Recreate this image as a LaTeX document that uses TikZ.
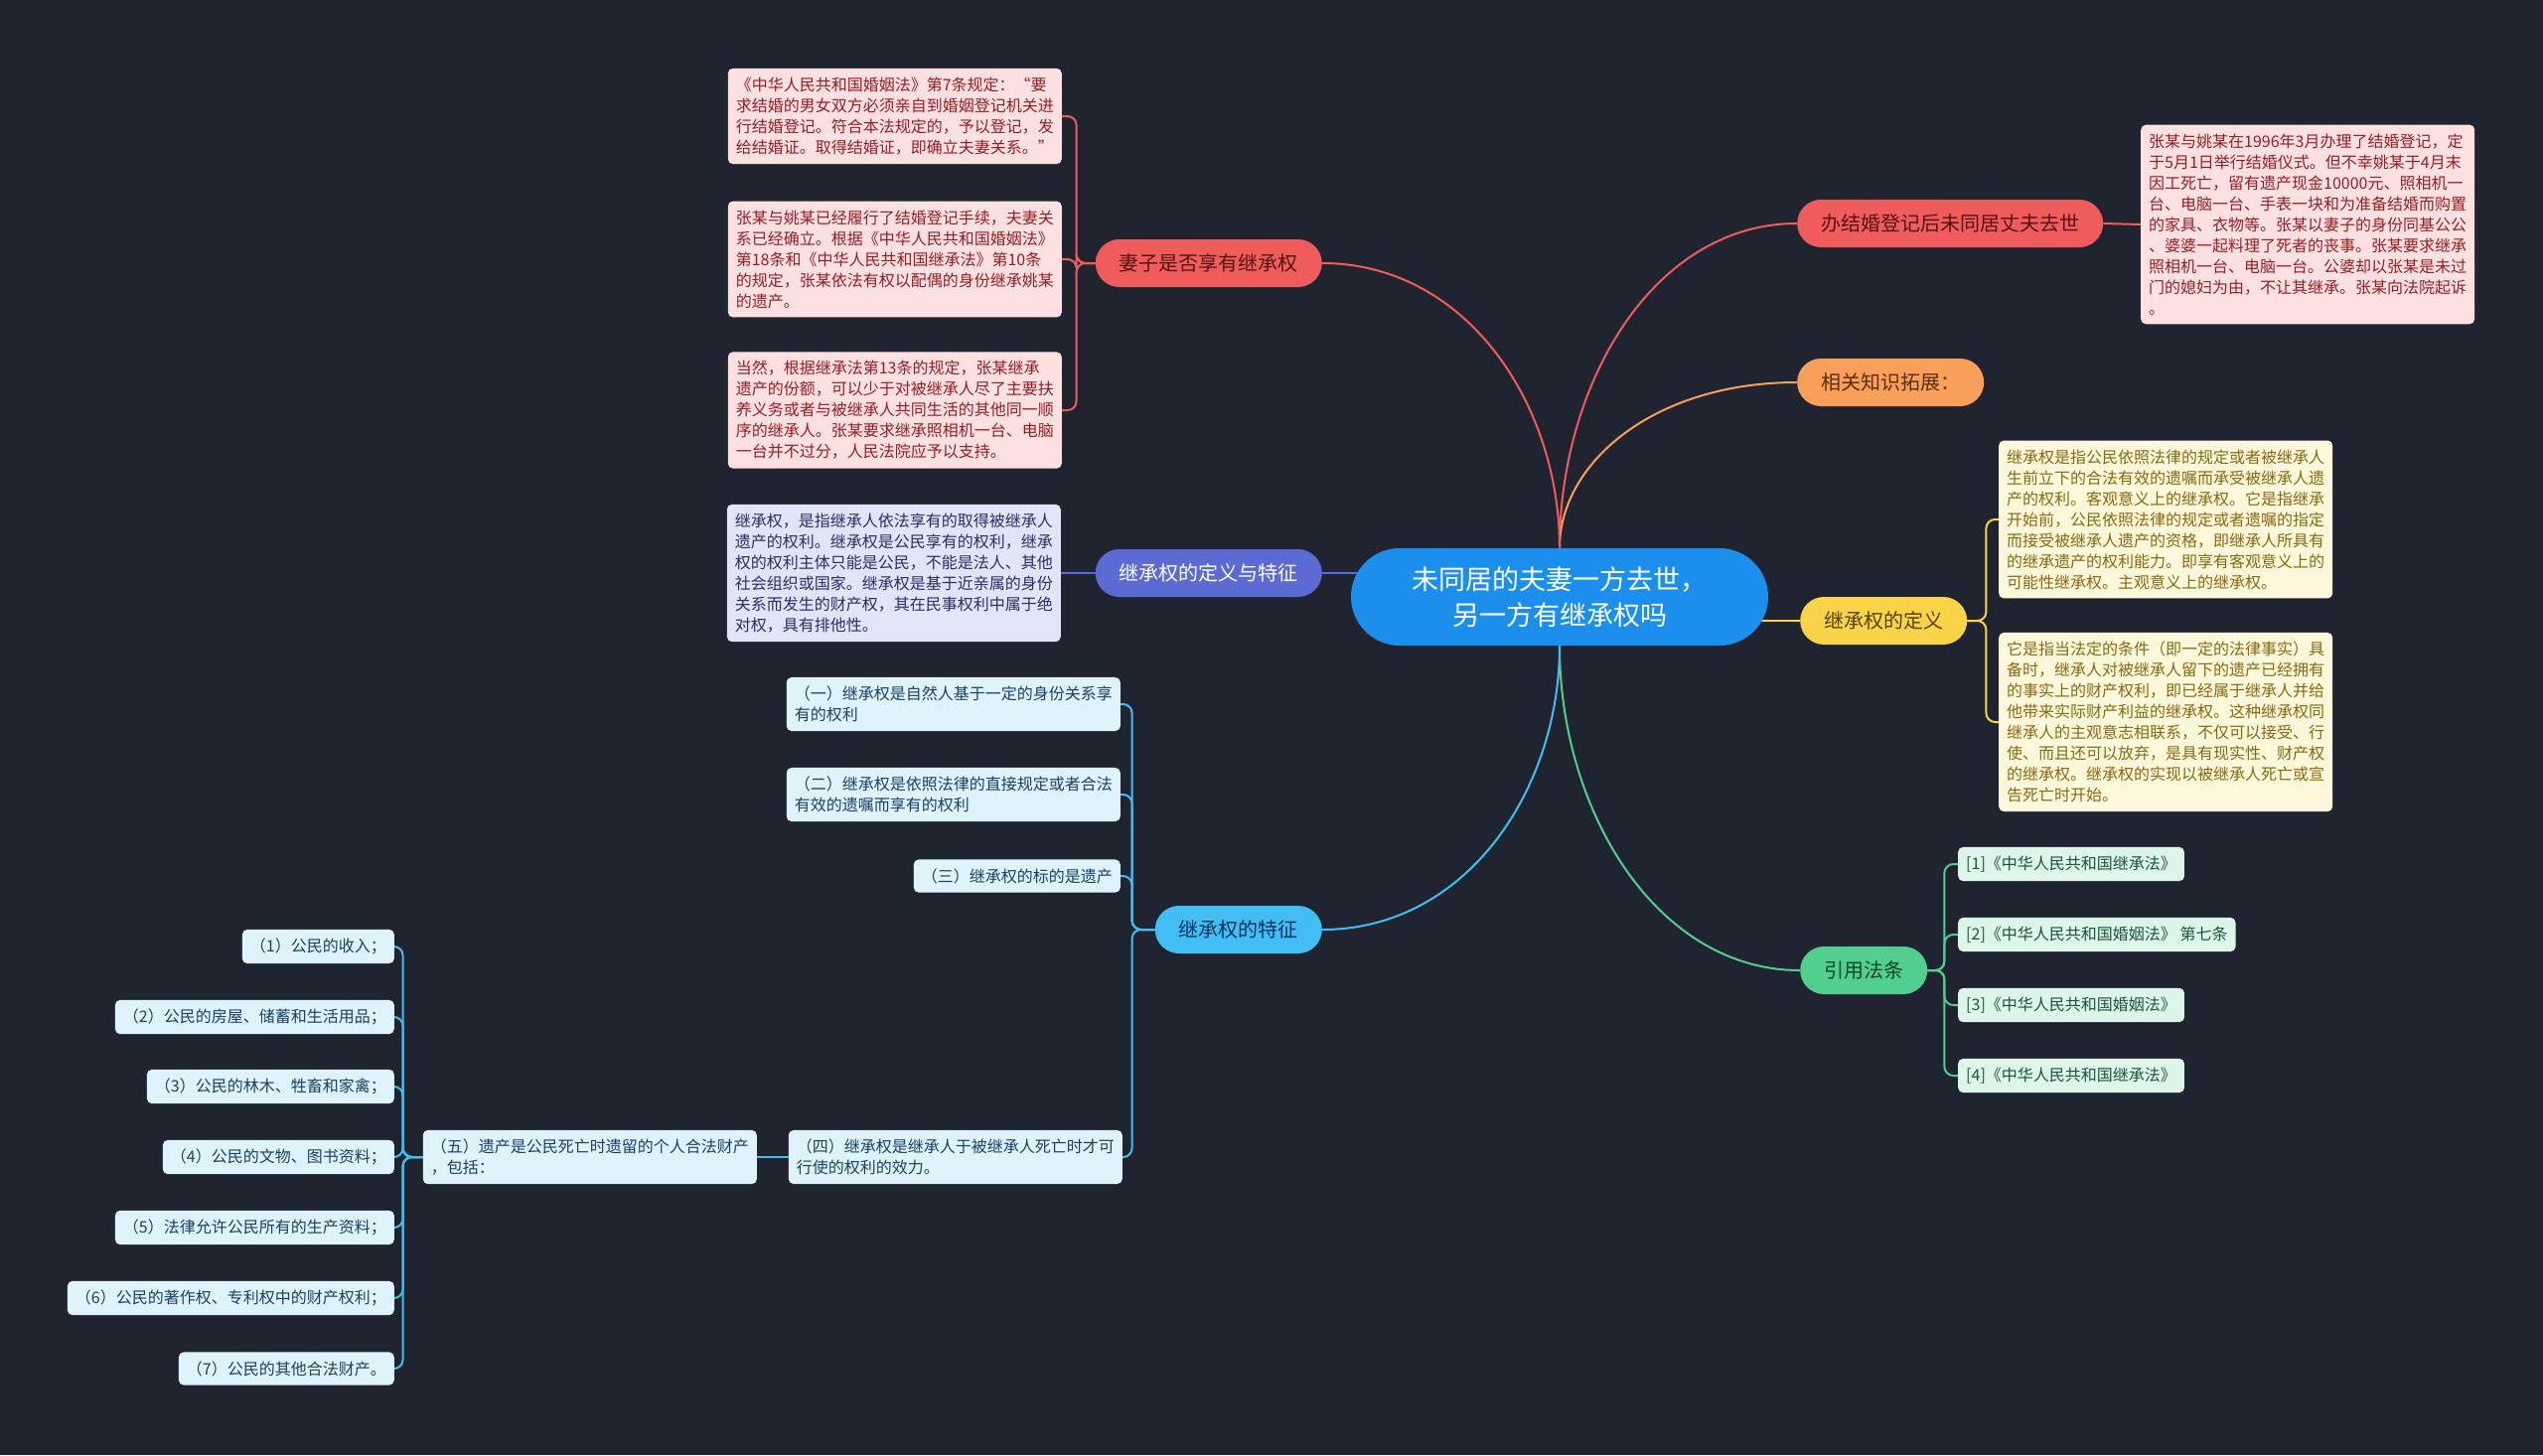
\documentclass[tikz,border=0pt]{standalone}
\usepackage{fontspec}
\setmainfont{Noto Sans CJK SC}
\usetikzlibrary{shapes.misc,backgrounds}
\definecolor{bgc}{RGB}{32,36,48}
\definecolor{rt}{RGB}{27,143,235}
\definecolor{rd}{RGB}{240,92,92}
\definecolor{rdD}{RGB}{85,20,20}
\definecolor{rdL}{RGB}{253,225,225}
\definecolor{rdT}{RGB}{150,30,35}
\definecolor{og}{RGB}{248,160,90}
\definecolor{ogD}{RGB}{90,45,10}
\definecolor{yl}{RGB}{250,212,72}
\definecolor{ylD}{RGB}{85,65,0}
\definecolor{ylL}{RGB}{253,247,220}
\definecolor{ylT}{RGB}{135,105,15}
\definecolor{gn}{RGB}{82,206,142}
\definecolor{gnD}{RGB}{10,70,40}
\definecolor{gnL}{RGB}{222,246,234}
\definecolor{gnT}{RGB}{25,85,60}
\definecolor{bl}{RGB}{66,190,245}
\definecolor{blD}{RGB}{10,50,90}
\definecolor{blL}{RGB}{222,243,252}
\definecolor{blT}{RGB}{25,65,100}
\definecolor{pu}{RGB}{92,106,212}
\definecolor{puD}{RGB}{255,255,255}
\definecolor{puL}{RGB}{226,229,248}
\definecolor{puT}{RGB}{40,48,100}
\tikzset{
  ce/.style={rectangle, rounded corners=49pt, minimum width=420pt, minimum height=98pt,
    fill=rt, text=white, align=center, font=\fontsize{27}{36}\selectfont},
  br/.style={rectangle, rounded corners=24pt, minimum height=48pt, inner xsep=24pt,
    fill=#1, text=#1D, font=\fontsize{20}{24}\selectfont},
  lf/.style={rectangle, rounded corners=5pt, inner xsep=8pt, inner ysep=9pt,
    fill=#1L, text=#1T, align=left, font=\fontsize{16}{21}\selectfont},
  ln/.style={draw=#1, line width=2pt},
  bk/.style={ln=#1, rounded corners=9pt}
}
\begin{document}
\begin{tikzpicture}[x=1pt,y=-1pt]
  \useasboundingbox (0,0) rectangle (2560,1465);
  \node[ce] (root) at (1570,601) {未同居的夫妻一方去世，\\另一方有继承权吗};
  % right side
  \node[br=rd, anchor=west] (marry) at (1809,225) {办结婚登记后未同居丈夫去世};
  \node[br=og, anchor=west] (more) at (1809,385) {相关知识拓展：};
  \node[br=yl, anchor=west] (defn) at (1812,625) {继承权的定义};
  \node[br=gn, anchor=west] (laws) at (1812,977) {引用法条};
  % left side
  \node[br=rd, anchor=east] (wife) at (1331,265) {妻子是否享有继承权};
  \node[br=pu, anchor=east] (dfeat) at (1331,577) {继承权的定义与特征};
  \node[br=bl, anchor=east] (feat) at (1331,936) {继承权的特征};

  \node[lf=rd, anchor=west] (case) at (2155,226)
    {张某与姚某在1996年3月办理了结婚登记，定\\于5月1日举行结婚仪式。但不幸姚某于4月末\\因工死亡，留有遗产现金10000元、照相机一\\台、电脑一台、手表一块和为准备结婚而购置\\的家具、衣物等。张某以妻子的身份同基公公\\、婆婆一起料理了死者的丧事。张某要求继承\\照相机一台、电脑一台。公婆却以张某是未过\\门的媳妇为由，不让其继承。张某向法院起诉\\。};
  \node[lf=yl, anchor=west] (obj) at (2012,523)
    {继承权是指公民依照法律的规定或者被继承人\\生前立下的合法有效的遗嘱而承受被继承人遗\\产的权利。客观意义上的继承权。它是指继承\\开始前，公民依照法律的规定或者遗嘱的指定\\而接受被继承人遗产的资格，即继承人所具有\\的继承遗产的权利能力。即享有客观意义上的\\可能性继承权。主观意义上的继承权。};
  \node[lf=yl, anchor=west] (subj) at (2012,727)
    {它是指当法定的条件（即一定的法律事实）具\\备时，继承人对被继承人留下的遗产已经拥有\\的事实上的财产权利，即已经属于继承人并给\\他带来实际财产利益的继承权。这种继承权同\\继承人的主观意志相联系，不仅可以接受、行\\使、而且还可以放弃，是具有现实性、财产权\\的继承权。继承权的实现以被继承人死亡或宣\\告死亡时开始。};
  \node[lf=gn, anchor=west] (law1) at (1971,870) {[1]《中华人民共和国继承法》};
  \node[lf=gn, anchor=west] (law2) at (1971,941) {[2]《中华人民共和国婚姻法》 第七条};
  \node[lf=gn, anchor=west] (law3) at (1971,1012) {[3]《中华人民共和国婚姻法》};
  \node[lf=gn, anchor=west] (law4) at (1971,1083) {[4]《中华人民共和国继承法》};

  \node[lf=rd, anchor=east] (art7) at (1069,117)
    {《中华人民共和国婚姻法》第7条规定：“要\\求结婚的男女双方必须亲自到婚姻登记机关进\\行结婚登记。符合本法规定的，予以登记，发\\给结婚证。取得结婚证，即确立夫妻关系。”};
  \node[lf=rd, anchor=east] (spouse) at (1069,261)
    {张某与姚某已经履行了结婚登记手续，夫妻关\\系已经确立。根据《中华人民共和国婚姻法》\\第18条和《中华人民共和国继承法》第10条\\的规定，张某依法有权以配偶的身份继承姚某\\的遗产。};
  \node[lf=rd, anchor=east] (share) at (1069,413)
    {当然，根据继承法第13条的规定，张某继承\\遗产的份额，可以少于对被继承人尽了主要扶\\养义务或者与被继承人共同生活的其他同一顺\\序的继承人。张某要求继承照相机一台、电脑\\一台并不过分，人民法院应予以支持。};
  \node[lf=pu, anchor=east] (dtext) at (1068,577)
    {继承权，是指继承人依法享有的取得被继承人\\遗产的权利。继承权是公民享有的权利，继承\\权的权利主体只能是公民，不能是法人、其他\\社会组织或国家。继承权是基于近亲属的身份\\关系而发生的财产权，其在民事权利中属于绝\\对权，具有排他性。};

  \node[lf=bl, anchor=east] (f1) at (1128,709) {（一）继承权是自然人基于一定的身份关系享\\有的权利};
  \node[lf=bl, anchor=east] (f2) at (1128,800) {（二）继承权是依照法律的直接规定或者合法\\有效的遗嘱而享有的权利};
  \node[lf=bl, anchor=east] (f3) at (1128,882) {（三）继承权的标的是遗产};
  \node[lf=bl, anchor=east] (f4) at (1130,1165) {（四）继承权是继承人于被继承人死亡时才可\\行使的权利的效力。};
  \node[lf=bl, anchor=east] (f5) at (762,1165) {（五）遗产是公民死亡时遗留的个人合法财产\\，包括：};

  \node[lf=bl, anchor=east] (s1) at (397,953) {（1）公民的收入；};
  \node[lf=bl, anchor=east] (s2) at (397,1024) {（2）公民的房屋、储蓄和生活用品；};
  \node[lf=bl, anchor=east] (s3) at (397,1094) {（3）公民的林木、牲畜和家禽；};
  \node[lf=bl, anchor=east] (s4) at (397,1165) {（4）公民的文物、图书资料；};
  \node[lf=bl, anchor=east] (s5) at (397,1236) {（5）法律允许公民所有的生产资料；};
  \node[lf=bl, anchor=east] (s6) at (397,1307) {（6）公民的著作权、专利权中的财产权利；};
  \node[lf=bl, anchor=east] (s7) at (397,1378) {（7）公民的其他合法财产。};

  \begin{scope}[on background layer]
    \fill[bgc] (0,0) rectangle (2560,1465);
    \draw[ln=rd] (root.north) .. controls +(0,-165) and +(-145,0) .. (marry.west);
    \draw[ln=og] (root.north) .. controls +(0,-85) and +(-145,0) .. (more.west);
    \draw[ln=yl] (root.center |- defn.west) -- (defn.west);
    \draw[ln=gn] (root.south) .. controls +(0,165) and +(-145,0) .. (laws.west);
    \draw[ln=rd] (root.north) .. controls +(0,-145) and +(145,0) .. (wife.east);
    \draw[ln=pu] (dfeat.east) -- (dfeat.east -| root.center);
    \draw[ln=bl] (root.south) .. controls +(0,145) and +(145,0) .. (feat.east);

    \draw[ln=rd] (marry.east) -- (case.west);
    \draw[bk=yl] (defn.east) -- ++(19,0) |- (obj.west);
    \draw[bk=yl] (defn.east) -- ++(19,0) |- (subj.west);
    \draw[bk=gn] (laws.east) -- ++(17,0) |- (law1.west);
    \draw[bk=gn] (laws.east) -- ++(17,0) |- (law2.west);
    \draw[bk=gn] (laws.east) -- ++(17,0) |- (law3.west);
    \draw[bk=gn] (laws.east) -- ++(17,0) |- (law4.west);

    \draw[bk=rd] (wife.west) -- ++(-19,0) |- (art7.east);
    \draw[bk=rd] (wife.west) -- ++(-19,0) |- (spouse.east);
    \draw[bk=rd] (wife.west) -- ++(-19,0) |- (share.east);
    \draw[ln=pu] (dfeat.west) -- (dtext.east);

    \draw[bk=bl] (feat.west) -- ++(-23,0) |- (f1.east);
    \draw[bk=bl] (feat.west) -- ++(-23,0) |- (f2.east);
    \draw[bk=bl] (feat.west) -- ++(-23,0) |- (f3.east);
    \draw[bk=bl] (feat.west) -- ++(-23,0) |- (f4.east);
    \draw[ln=bl] (f4.west) -- (f5.east);

    \draw[bk=bl] (f5.west) -- ++(-20,0) |- (s1.east);
    \draw[bk=bl] (f5.west) -- ++(-20,0) |- (s2.east);
    \draw[bk=bl] (f5.west) -- ++(-20,0) |- (s3.east);
    \draw[bk=bl] (f5.west) -- ++(-20,0) |- (s4.east);
    \draw[bk=bl] (f5.west) -- ++(-20,0) |- (s5.east);
    \draw[bk=bl] (f5.west) -- ++(-20,0) |- (s6.east);
    \draw[bk=bl] (f5.west) -- ++(-20,0) |- (s7.east);
  \end{scope}
\end{tikzpicture}
\end{document}
